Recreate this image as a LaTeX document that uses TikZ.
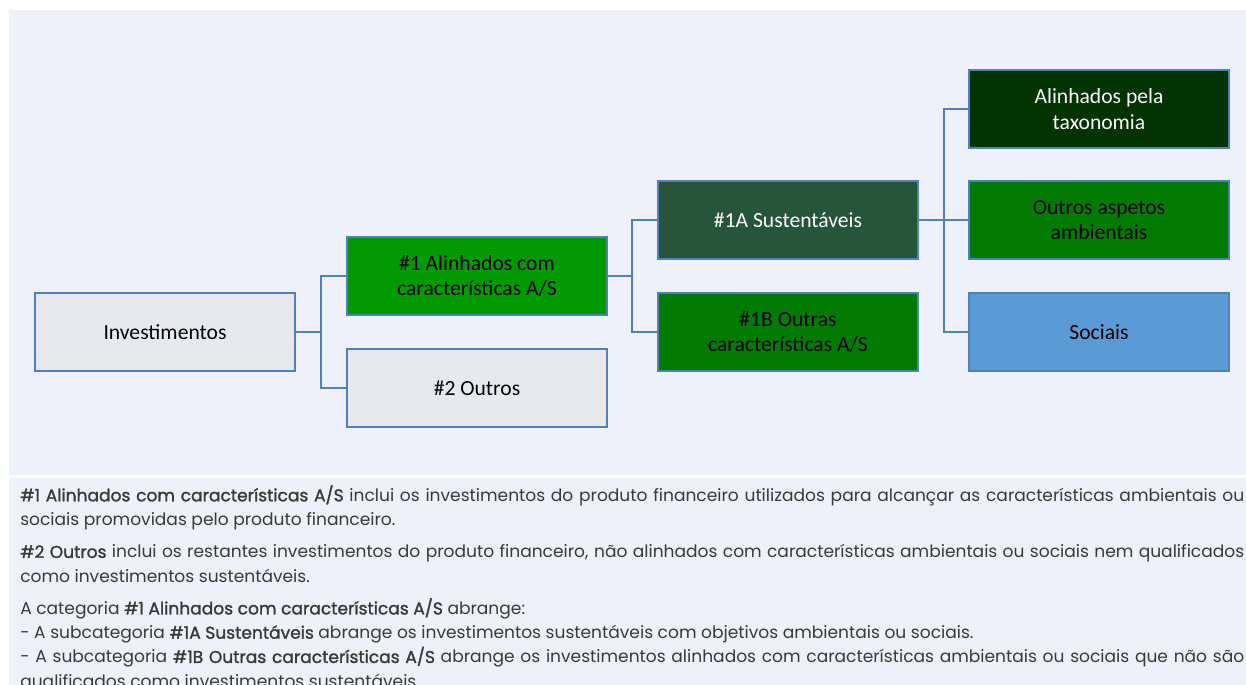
\documentclass[tikz,border=0pt]{standalone}
\usepackage{fontspec}
\setmainfont{Poppins}[BoldFont={*},BoldFeatures={FakeBold=1.5}]
\newfontfamily\boxfont{Carlito}
\usetikzlibrary{positioning}
\definecolor{panel}{HTML}{EEF1F9}
\definecolor{edge}{HTML}{4F81BD}
\definecolor{lightbox}{HTML}{E8E9EA}
\definecolor{greenall}{HTML}{009A00}
\definecolor{greensus}{HTML}{26553A}
\definecolor{greenoth}{HTML}{007A00}
\definecolor{greentax}{HTML}{003300}
\definecolor{social}{HTML}{5B9BD5}
\definecolor{bodytext}{HTML}{3A3A3A}
\tikzstyle{chart}=[
  x=0.75pt,y=-0.75pt
]
\tikzstyle{cat}=[
  draw=edge,line width=1.5pt,minimum width=195pt,minimum height=59pt,
  align=center,inner sep=2pt,font=\boxfont\fontsize{16.2}{19}\selectfont
]
\tikzstyle{link}=[
  draw=edge,line width=1.5pt
]
\tikzstyle{notes}=[
  anchor=north west,inner sep=0pt,text width=918pt,align=justify,
  text=bodytext,font=\fontsize{12.8}{18.2}\selectfont
]

\begin{document}
\begin{tikzpicture}[chart]
    \useasboundingbox (0,0) rectangle (1246,685);
    \fill[panel] (9,10) rectangle (1246,475);
    \fill[panel] (9,478) rectangle (1246,685);
    \node (inv) at (165,332) [cat,fill=lightbox] {Investimentos};
    \node (al) at (477,276) [cat,fill=greenall] {\#1 Alinhados com\\características A/S};
    \node (ou) at (477,388) [cat,fill=lightbox] {\#2 Outros};
    \node (sus) at (788,220) [cat,fill=greensus,text=white] {\#1A Sustentáveis};
    \node (oth) at (788,332) [cat,fill=greenoth] {\#1B Outras\\características A/S};
    \node (tax) at (1099,109) [cat,fill=greentax,text=white] {Alinhados pela\\taxonomia};
    \node (amb) at (1099,220) [cat,fill=greenoth] {Outros aspetos\\ambientais};
    \node (soc) at (1099,332) [cat,fill=social] {Sociais};
    \coordinate (j1) at (321,332);
    \coordinate (j2) at (632,276);
    \coordinate (j3) at (944,220);
    \draw [link] (inv) -- (j1) |- (al);
    \draw [link] (j1) |- (ou);
    \draw [link] (al) -- (j2) |- (sus);
    \draw [link] (j2) |- (oth);
    \draw [link] (sus) -- (amb);
    \draw [link] (j3) |- (tax);
    \draw [link] (j3) |- (soc);
    % explanation below the chart
    \node (txt) at (20,485) [notes] {%
      \setlength{\parskip}{6pt}%
      \textbf{\#1 Alinhados com características A/S} inclui os investimentos do produto financeiro utilizados para alcançar as características ambientais ou\linebreak
      sociais promovidas pelo produto financeiro.\par
      \textbf{\#2 Outros} inclui os restantes investimentos do produto financeiro, não alinhados com características ambientais ou sociais nem qualificados\linebreak
      como investimentos sustentáveis.\par
      A categoria \textbf{\#1 Alinhados com características A/S} abrange:\\
      - A subcategoria \textbf{\#1A Sustentáveis} abrange os investimentos sustentáveis com objetivos ambientais ou sociais.\\
      - A subcategoria \textbf{\#1B Outras características A/S} abrange os investimentos alinhados com características ambientais ou sociais que não são\linebreak
      qualificados como investimentos sustentáveis.};
\end{tikzpicture}
\end{document}
